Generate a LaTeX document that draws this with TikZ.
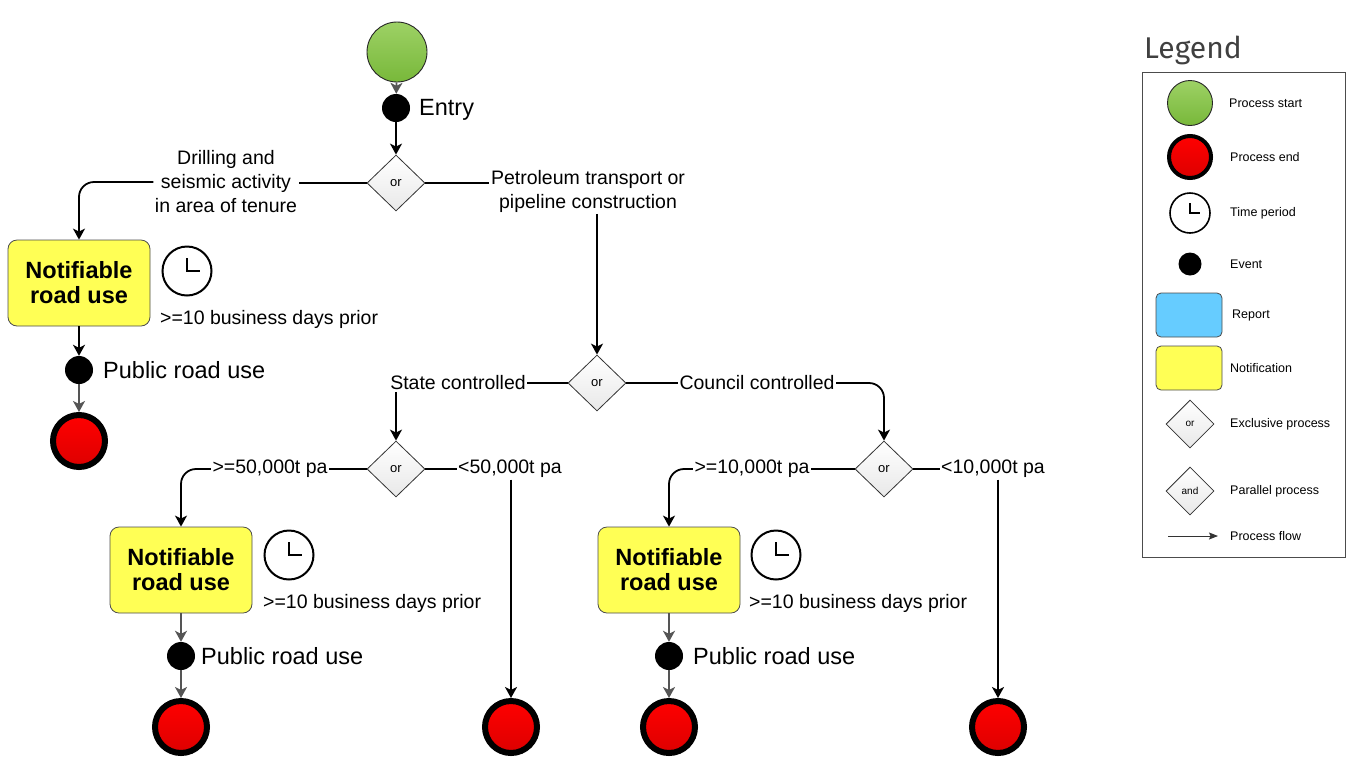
\documentclass[tikz,border=0pt]{standalone}
\usepackage{fontspec}
\setmainfont{Liberation Sans}
\newfontfamily\legendfont{Fira Sans}
\usetikzlibrary{arrows.meta}
\usetikzlibrary{shapes.geometric}

\definecolor{startgreen}{HTML}{8CC94A}
\definecolor{startdark}{HTML}{78B83A}
\definecolor{endred}{HTML}{FF0000}
\definecolor{enddark}{HTML}{DD0000}
\definecolor{notifyellow}{HTML}{FFFF55}
\definecolor{reportblue}{HTML}{66CCFF}
\definecolor{flowgray}{HTML}{555555}

\begin{document}
\begin{tikzpicture}[x=1pt, y=-1pt,
    flow/.style={line width=1.8pt, -{Stealth[length=11pt, width=12pt, inset=3pt]}},
    plain/.style={line width=1.8pt},
    grayflow/.style={flow, flowgray},
    startnode/.style={circle, draw=black!85, line width=0.9pt, top color=startgreen!85!white, bottom color=startdark, minimum size=60pt, inner sep=0pt},
    endnode/.style={circle, draw=black, line width=6pt, top color=endred, bottom color=enddark, minimum size=52pt, inner sep=0pt, outer sep=3pt},
    event/.style={circle, fill=black, minimum size=28pt, inner sep=0pt},
    orgate/.style={diamond, draw=black!80, line width=0.8pt, top color=white, bottom color=black!9, minimum width=58pt, minimum height=56pt, inner sep=0pt, font=\fontsize{13}{13}\selectfont},
    notif/.style={rectangle, rounded corners=9pt, draw=black!70, line width=0.8pt, fill=notifyellow, minimum width=142pt, minimum height=86pt, align=center, font=\bfseries\fontsize{23.5}{25}\selectfont},
    clock/.style={circle, draw=black, line width=2pt, minimum size=49pt, inner sep=0pt,
        path picture={\draw[line width=2.2pt] ([yshift=13pt]path picture bounding box.center) -- (path picture bounding box.center) -- ++(13,0);}},
    lbl/.style={fill=white, inner sep=1.5pt, align=center, font=\fontsize{19.5}{24}\selectfont},
    txt/.style={anchor=west, inner sep=0pt, font=\fontsize{19.5}{24}\selectfont},
    bigtxt/.style={anchor=west, inner sep=0pt, font=\fontsize{23.5}{24}\selectfont},
    legtxt/.style={anchor=west, inner sep=0pt, font=\fontsize{12.5}{14}\selectfont}]

    \useasboundingbox (0,0) rectangle (1351,764);

    % top of the process
    \node[startnode] (start) at (397,52) {};
    \node[event] (entry) at (396,108) {};
    \node[bigtxt] (entrytxt) at (419,110) {Entry};
    \node[orgate] (or1) at (396,183) {or};
    \node[lbl] (drill) at (226,182) {Drilling and\\seismic activity\\in area of tenure};
    \node[lbl] (petrol) at (588,191) {Petroleum transport or\\pipeline construction};

    % drilling branch
    \node[notif] (box1) at (79,283) {Notifiable\\road use};
    \node[clock] (clock1) at (187,271) {};
    \node[txt] (days1) at (160,319) {>=10 business days prior};
    \node[event] (road1) at (79,370) {};
    \node[bigtxt] (road1txt) at (103,370) {Public road use};
    \node[endnode] (end1) at (79,441) {};

    % transport branch
    \node[orgate] (or2) at (597,383) {or};
    \node[lbl] (state) at (458,383) {State controlled};
    \node[lbl] (council) at (757,383) {Council controlled};
    \node[orgate] (or3) at (396,469) {or};
    \node[orgate] (or4) at (884,469) {or};
    \node[lbl] (ge50) at (270,469) {>=50,000t pa};
    \node[lbl] (lt50) at (510,469) {<50,000t pa};
    \node[lbl] (ge10) at (752,469) {>=10,000t pa};
    \node[lbl] (lt10) at (993,469) {<10,000t pa};

    \node[notif] (box2) at (181,570) {Notifiable\\road use};
    \node[clock] (clock2) at (289,555) {};
    \node[txt] (days2) at (263,603) {>=10 business days prior};
    \node[event] (road2) at (181,656) {};
    \node[bigtxt] (road2txt) at (201,656) {Public road use};
    \node[endnode] (end2) at (181,727) {};
    \node[endnode] (end3) at (511,727) {};

    \node[notif] (box3) at (669,570) {Notifiable\\road use};
    \node[clock] (clock3) at (776,555) {};
    \node[txt] (days3) at (749,603) {>=10 business days prior};
    \node[event] (road3) at (669,656) {};
    \node[bigtxt] (road3txt) at (693,656) {Public road use};
    \node[endnode] (end4) at (669,727) {};
    \node[endnode] (end5) at (998,727) {};

    % connectors
    \draw[grayflow] (start) -- (entry);
    \draw[flow] (entry) -- (or1);
    \draw[plain] (or1.west) -- (drill.east |- or1.west);
    \draw[flow, rounded corners=15pt] (drill.west) -| (box1.north);
    \draw[plain] (or1.east) -- (or1.east -| petrol.west);
    \draw[flow] (petrol.south -| or2.north) -- (or2.north);
    \draw[flow] (box1) -- (road1);
    \draw[grayflow] (road1) -- (end1);

    \draw[plain] (or2.west) -- (state.east);
    \draw[flow] (state.south -| or3.north) -- (or3.north);
    \draw[plain] (or2.east) -- (council.west);
    \draw[flow, rounded corners=15pt] (council.east) -| (or4.north);

    \draw[plain] (or3.west) -- (ge50.east);
    \draw[flow, rounded corners=15pt] (ge50.west) -| (box2.north);
    \draw[plain] (or3.east) -- (lt50.west);
    \draw[flow] (lt50.south -| end3.north) -- (end3.north);
    \draw[grayflow] (box2) -- (road2);
    \draw[grayflow] (road2) -- (end2);

    \draw[plain] (or4.west) -- (ge10.east);
    \draw[flow, rounded corners=15pt] (ge10.west) -| (box3.north);
    \draw[plain] (or4.east) -- (lt10.west);
    \draw[flow] (lt10.south -| end5.north) -- (end5.north);
    \draw[grayflow] (box3) -- (road3);
    \draw[grayflow] (road3) -- (end4);

    % legend
    \node[anchor=west, inner sep=0pt, text=black!75, font=\legendfont\fontsize{30}{30}\selectfont] (legtitle) at (1144,50) {Legend};
    \draw[black!70, line width=0.8pt] (1142,72) rectangle (1345,557);
    \node[startnode, minimum size=45pt] (legstart) at (1190,103) {};
    \node[legtxt] at (1229,103) {Process start};
    \node[endnode, line width=4pt, minimum size=42pt] (legend) at (1190,157) {};
    \node[legtxt] at (1230,157) {Process end};
    \node[clock, line width=1.6pt, minimum size=40pt,
        path picture={\draw[line width=1.6pt] ([yshift=10pt]path picture bounding box.center) -- (path picture bounding box.center) -- ++(10,0);}] (legclock) at (1190,213) {};
    \node[legtxt] at (1230,213) {Time period};
    \node[event, minimum size=23pt] (legevent) at (1190,264) {};
    \node[legtxt] at (1230,264) {Event};
    \node[rectangle, rounded corners=5pt, draw=black!70, line width=0.8pt, fill=reportblue, minimum width=66pt, minimum height=44pt] (legreport) at (1189,315) {};
    \node[legtxt] at (1232,315) {Report};
    \node[rectangle, rounded corners=5pt, draw=black!70, line width=0.8pt, fill=notifyellow, minimum width=66pt, minimum height=44pt] (legnotif) at (1189,368) {};
    \node[legtxt] at (1230,368) {Notification};
    \node[orgate, minimum width=48pt, minimum height=48pt, font=\fontsize{10}{10}\selectfont] (legor) at (1190,424) {or};
    \node[legtxt] at (1230,424) {Exclusive process};
    \node[orgate, minimum width=48pt, minimum height=48pt, font=\fontsize{10}{10}\selectfont] (legand) at (1190,491) {and};
    \node[legtxt] at (1230,491) {Parallel process};
    \coordinate (legfrom) at (1168,536);
    \coordinate (legto) at (1218,536);
    \draw[line width=1pt, -{Stealth[length=9pt, width=7pt, inset=1.5pt]}, black!80] (legfrom) -- (legto);
    \node[legtxt] at (1230,536) {Process flow};
\end{tikzpicture}
\end{document}
